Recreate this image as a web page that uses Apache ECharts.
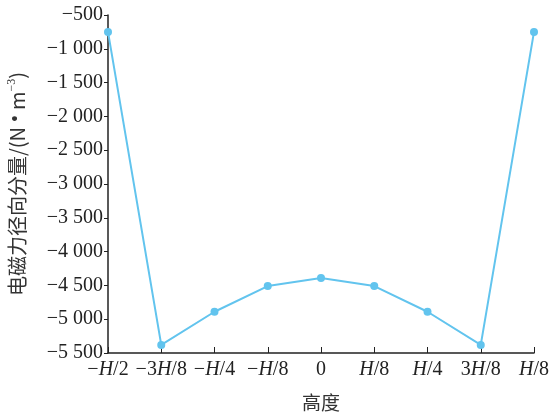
<!DOCTYPE html>
<html>
<head>
<meta charset="utf-8">
<script src="https://cdn.jsdelivr.net/npm/echarts@6/dist/echarts.min.js"></script>
<style>
  html, body { margin: 0; padding: 0; background: #fff; }
  #main { width: 552px; height: 417px; }
</style>
</head>
<body>
<div id="main"></div>
<script>
// 高度位置 (x 轴类目)
const heights = ['−{i|H}/2', '−3{i|H}/8', '−{i|H}/4', '−{i|H}/8', '0', '{i|H}/8', '{i|H}/4', '3{i|H}/8', '{i|H}/8'];
// 电磁力径向分量 N/m^3
const radialForce = [-750, -5380, -4890, -4510, -4390, -4510, -4890, -5380, -750];

let myChart = echarts.init(document.getElementById('main'));

const serif = '"Liberation Serif", "DejaVu Serif", serif';
const cjk = '"Noto Sans CJK SC", sans-serif';

myChart.setOption({
    animation: false,
    grid: { left: 108, right: 18, top: 15, bottom: 64, outerBoundsMode: 'none', containLabel: false },
    xAxis: {
        type: 'category',
        data: heights.map((h, i) => String(i)),
        boundaryGap: false,
        name: '高度',
        nameLocation: 'middle',
        nameGap: 40,
        nameTextStyle: { fontFamily: cjk, fontSize: 19, color: '#333' },
        axisLine: { lineStyle: { color: '#222', width: 1.5 } },
        axisTick: { inside: true, length: 6, interval: 0, lineStyle: { color: '#222' } },
        axisLabel: {
            interval: 0,
            margin: 7,
            fontFamily: serif,
            fontSize: 20,
            color: '#222',
            hideOverlap: false,
            formatter: (v, i) => heights[i],
            rich: { i: { fontStyle: 'italic', fontFamily: serif, fontSize: 20, color: '#222' } }
        },
        splitLine: { show: false }
    },
    yAxis: {
        type: 'value',
        min: -5500,
        max: -500,
        interval: 500,
        name: '{a|电磁力径向分量/(N}{b| • }{a|m}{s|−3}{a|)}',
        nameLocation: 'middle',
        nameGap: 80,
        nameTextStyle: {
            rich: {
                a: { fontFamily: cjk, fontSize: 20, color: '#333' },
                b: { fontFamily: serif, fontSize: 20, color: '#333' },
                s: { fontFamily: serif, fontSize: 12, color: '#333', verticalAlign: 'top', padding: [0, 0, 10, 0] }
            }
        },
        axisLine: { show: true, lineStyle: { color: '#222', width: 1.5 } },
        axisTick: { show: true, length: 4, lineStyle: { color: '#222' } },
        axisLabel: {
            margin: 5,
            fontFamily: serif,
            fontSize: 20,
            color: '#222',
            formatter: v => {
                const a = Math.abs(v);
                let s = a >= 1000 ? Math.floor(a / 1000) + ' ' + String(a % 1000).padStart(3, '0') : String(a);
                return (v < 0 ? '−' : '') + s;
            }
        },
        splitLine: { show: false }
    },
    series: [{
        type: 'line',
        data: radialForce,
        symbol: 'circle',
        symbolSize: 8,
        itemStyle: { color: '#62c4ee' },
        lineStyle: { color: '#62c4ee', width: 2 }
    }]
});
</script>
</body>
</html>
